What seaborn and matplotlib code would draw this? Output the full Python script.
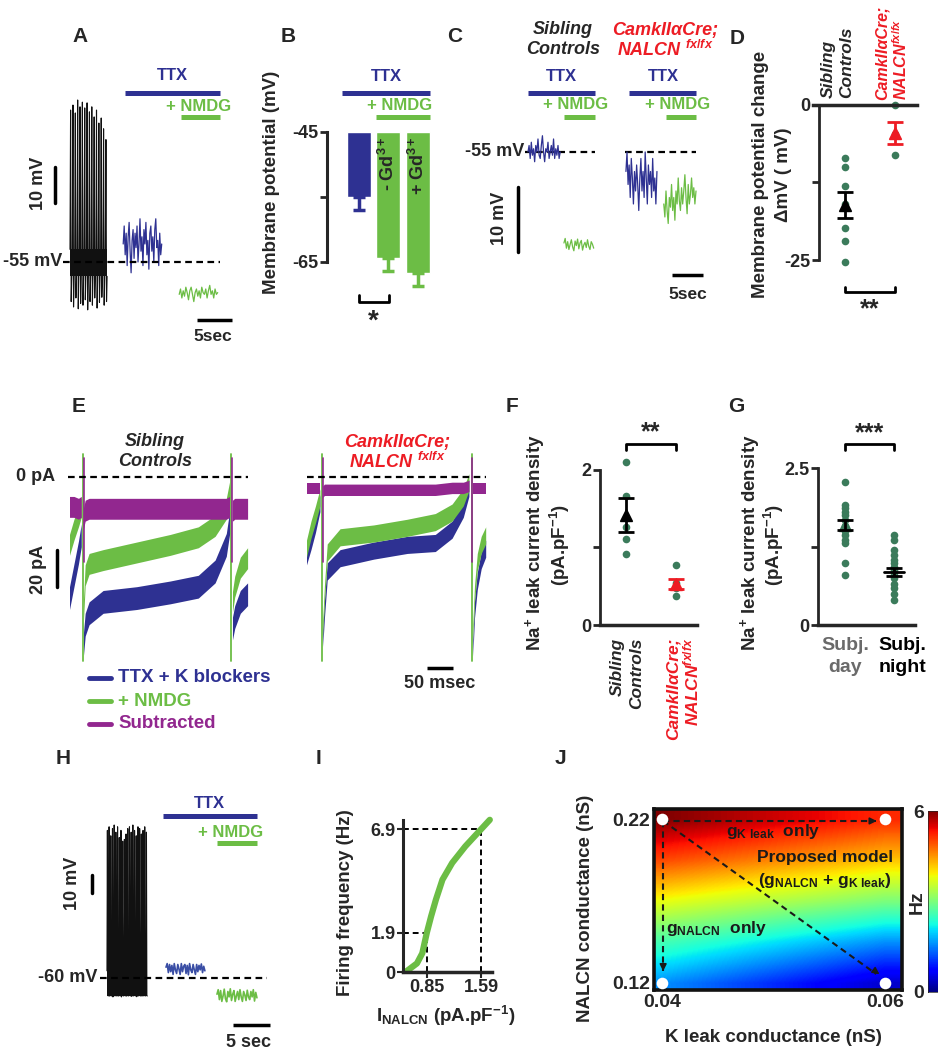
import numpy as np
import pandas as pd
import matplotlib
matplotlib.use('Agg')
import matplotlib.pyplot as plt
from matplotlib.lines import Line2D
import seaborn as sns

sns.set_style('white')
plt.rcParams['font.family'] = ['Liberation Sans', 'DejaVu Sans']
plt.rcParams['font.weight'] = 'bold'
plt.rcParams['mathtext.fontset'] = 'custom'
plt.rcParams['mathtext.rm'] = 'Liberation Sans:bold'
plt.rcParams['mathtext.it'] = 'Liberation Sans:italic:bold'
plt.rcParams['mathtext.bf'] = 'Liberation Sans:bold'
plt.rcParams['axes.linewidth'] = 2

NAVY = '#2e3192'; GREEN = '#6cbd45'; PURPLE = '#92278f'; RED = '#ed1c24'
DOT = '#3b7b5b'; BLACK = '#111111'
nan = np.nan

# ---------------- data ----------------
# A : current clamp (mV), time windows (s)
A_spike_peaks = [-12.8, -11.4, -13.6, -10.0, -11.9, -10.6, -12.2, -10.8, -13.3, -11.9,
                 -14.7, -12.8, -16.4, -15.0, -18.0, -21.0]
A_spike_troughs = [-66, -67.5, -65, -68, -66.5, -67, -65.5, -68.3, -66, -67,
                   -65, -67.8, -66.2, -64.8, -67, -66]
A_blue = [-50, -45, -53, -47, -56, -48, -44, -52, -58, -49, -46, -54, -47, -51, -45, -55, -50, -43,
          -52, -48, -56, -46, -50, -44, -53, -49, -57, -47, -45, -52, -48, -55, -46, -43, -51, -49,
          -56, -47, -53, -50]
A_green = [-64, -62.5, -65, -63, -64.5, -62, -63.5, -65.5, -63, -62, -64, -66, -63.5, -62.5, -64.5,
           -63, -65, -62, -63.5, -64, -62.5, -65, -63, -61.5, -64, -63, -65, -62.5, -64, -63.5]
A_windows = {'spikes': (0.0, 5.3), 'ttx': (7.6, 13.1), 'nmdg': (15.6, 21.1)}
A_drug = {'ttx': (7.86, 21.4), 'nmdg': (15.86, 21.43)}

# B : membrane potential (mV)
B_groups = ['TTX', '- Gd3+', '+ Gd3+']
B_means = [-55.0, -64.4, -66.7]
B_err = [2.0, 2.0, 2.0]

# C
C_sib_blue = [-55, -54, -56, -53.5, -55.5, -54.5, -56.5, -54, -55, -53, -55.5, -56, -54, -52.5, -55,
              -56.5, -54.5, -55, -53.5, -56, -55, -54, -55.5, -53, -56, -54.5, -55.5, -54, -56, -55]
C_sib_green = [-69, -68.3, -69.8, -68.8, -70, -69.2, -68.5, -69.6, -70.2, -68.7, -69.4, -68.4, -69.9,
               -69, -68.6, -70.1, -69.3, -68.9, -69.7, -68.5, -69.5, -70, -68.8, -69.2, -69.8]
C_ko_blue = [-58, -55, -60, -57, -62, -56, -59, -63, -58, -61, -57, -60, -64, -59, -56, -61, -58, -62,
             -55, -59, -63, -57, -60, -58, -62, -56, -61, -59, -63, -58]
C_ko_green = [-63, -65, -61, -64, -66, -62, -63.5, -60, -64, -62, -65.5, -61, -63, -59, -62.5, -64,
              -60.5, -63, -61, -58.5, -62, -64.5, -60, -63, -61.5, -59, -62, -60.5, -63, -61]

# D : membrane potential change (mV)
D_sib = [-8.5, -10.0, -13.0, -16.0, -19.8, -22.0, -25.3]
D_ko = [0.0, -4.6, -8.0]
D_mean = [-16.1, -4.5]
D_sem = [2.1, 1.8]

# E : currents (pA) vs time (ms)
E_sib_t = [0, 8, 16, 21, nan, 25, 28, 35, 60, 120, 180, 230, 260, 280, 286, nan, 291, 295, 305, 318]
E_sib_blue = [-64, -52, -40, -31, nan, -88, -78, -72, -66, -64, -61, -58, -50, -36, -24, nan, -80, -74, -66, -62]
E_sib_green = [-36, -28, -21, -16, nan, -70, -52, -46, -44, -40, -36, -32, -26, -17, -8, nan, -66, -58, -48, -43]
E_sib_purple = [-16, -16, -17, -16, nan, -22, -18, -17, -17, -17, -17, -17, -17, -17, -16, nan, -18, -17, -17, -17]
E_sib_noise = [6, 5.5, 5.5]
E_sib_transients = [23, 288]
E_ko_t = [0, 8, 16, 24, nan, 29, 32, 37, 60, 120, 180, 230, 260, 280, 290, nan, 297, 300, 305, 312, 320]
E_ko_blue = [-42, -34, -25, -14, nan, -85, -70, -50, -43, -39, -36, -35, -28, -17, -6, nan, -90, -70, -55, -44, -38]
E_ko_green = [-38, -28, -20, -11, nan, -80, -62, -40, -32, -30, -27, -24, -19, -11, -3, nan, -82, -62, -45, -36, -31]
E_ko_purple = [-6, -6, -6, -6, nan, -8, -7, -7, -7, -7, -7, -7, -6, -6, -5, nan, -6, -6, -6, -6, -6]
E_ko_noise = [4.5, 4.5, 3]
E_ko_transients = [27, 294]
E_transient_range = (12, -97)

# F : Na+ leak density
F_sib = [2.10, 1.67, 1.27, 1.11, 0.92]
F_ko = [0.77, 0.54, 0.48, 0.37]
F_mean = [1.42, 0.53]
F_sem = [0.215, 0.065]

# G
G_day = [2.28, 1.91, 1.86, 1.80, 1.75, 1.67, 1.57, 1.49, 1.43, 1.35, 1.30, 0.98, 0.79]
G_night = [1.43, 1.35, 1.19, 1.11, 1.03, 0.98, 0.93, 0.88, 0.84, 0.80, 0.75, 0.66, 0.59, 0.50, 0.40]
G_mean = [1.59, 0.84]
G_sem = [0.075, 0.06]

# H
H_spike_peaks = [22, 24, 19, 23, 25, 21, 24, 18, 22, 16, 17, 20, 23, 24, 21, 25, 22, 19, 24, 23, 20, 22, 24, 21]
H_spike_troughs = [-69, -70, -68.5, -70.5, -69.5, -68, -70, -69, -70.5, -68.5, -69.5, -70, -69, -68.5,
                   -70.2, -69.3, -68.8, -70.4, -69.6, -68.7, -70, -69.2, -68.6, -69.8]
H_blue = [-54, -52, -57, -52.5, -56.5, -53, -58, -52, -55.5, -57.5, -52.5, -55, -58, -52, -56.5, -53.5,
          -52.5, -57.5, -53, -58.2, -52, -55.5, -57, -52.5, -55.5, -58, -52.5, -56.5, -53, -55.5,
          -52.2, -57, -53.5, -56]
H_green = [-69, -66.5, -72, -67, -73, -70, -66.2, -71.5, -73.2, -67.5, -70.5, -66, -72.5, -69, -67,
           -73, -70, -67.5, -72, -66.5, -70.5, -73, -67.5, -69.5, -72.5, -66.8, -70.5, -72, -67.5, -70.5,
           -66.5, -72.8, -68, -71]

# I : f-I curve
I_x = [0.566, 0.716, 0.789, 0.85, 0.909, 0.975, 1.064, 1.197, 1.376, 1.59, 1.71]
I_y = [0.03, 0.43, 0.92, 1.90, 2.70, 3.51, 4.47, 5.28, 6.08, 6.90, 7.36]
I_marks_x = [0.85, 1.59]
I_marks_y = [1.9, 6.9]

# J : firing rate map (Hz)
J_k = [0.04, 0.05, 0.06]
J_nalcn = [0.12, 0.145, 0.17, 0.195, 0.22]
J_hz = [[1.6, 1.0, 0.4],
        [2.6, 2.1, 1.6],
        [3.8, 3.4, 3.0],
        [5.0, 4.6, 4.2],
        [6.0, 5.6, 5.2]]

# ---------------- figure ----------------
W, H = 938, 1050
fig = plt.figure(figsize=(W / 100, H / 100), dpi=100)


def axpx(x0, y0, x1, y1):
    return fig.add_axes([x0 / W, 1 - y1 / H, (x1 - x0) / W, (y1 - y0) / H])


def ftxt(x, y, s, **kw):
    kw.setdefault('ha', 'center'); kw.setdefault('va', 'center'); kw.setdefault('fontweight', 'bold')
    fig.text(x / W, 1 - y / H, s, **kw)


def zig(ax, t0, t1, vals, color, lw=0.9):
    ax.plot(np.linspace(t0, t1, len(vals)), vals, color=color, lw=lw)


def spike_train(ax, t0, t1, peaks, troughs, hi, lo):
    seq = []
    for p, tr in zip(peaks, troughs):
        seq += [hi, p, tr, lo]
    ax.fill_between([t0, t1], lo, hi, color=BLACK, lw=0)
    ax.plot(np.linspace(t0, t1, len(seq)), seq, color=BLACK, lw=0.8)


def hbar(ax, x0, x1, y, color, lw=3.6):
    ax.plot([x0, x1], [y, y], color=color, lw=lw, solid_capstyle='butt', clip_on=False)


for lab, (x, y) in zip('ABCDEFGHIJ', [(80, 36), (288, 36), (455, 36), (737, 39), (79, 407),
                                       (512, 407), (736, 407), (63, 758), (318, 758), (560, 758)]):
    ftxt(x, y, lab, fontsize=15)

# ---- A ----
axA = axpx(60, 60, 245, 345)
axA.set_xlim(-1.43, 25.0); axA.set_ylim(-78.06, 1.11); axA.axis('off')
spike_train(axA, *A_windows['spikes'], A_spike_peaks, A_spike_troughs, -51.5, -59)
zig(axA, *A_windows['ttx'], A_blue, NAVY)
zig(axA, *A_windows['nmdg'], A_green, GREEN)
axA.plot([-1.0, 21.4], [-55, -55], ls=(0, (3, 2)), color='k', lw=1.6)
axA.text(-1.15, -55, '-55 mV', ha='right', va='center', fontsize=13)
axA.plot([-2.14, -2.14], [-28.6, -38.6], color='k', lw=2.5, clip_on=False)
axA.text(-4.57, -33.3, '10 mV', rotation=90, ha='center', va='center', fontsize=13)
hbar(axA, *A_drug['ttx'], -8.06, NAVY)
axA.text(14.6, -3.3, 'TTX', color=NAVY, ha='center', va='center', fontsize=12)
axA.text(18.3, -11.7, '+ NMDG', color=GREEN, ha='center', va='center', fontsize=12)
hbar(axA, *A_drug['nmdg'], -14.7, GREEN)
hbar(axA, 18.14, 23.14, -71.1, 'k', lw=2.5)
axA.text(20.43, -75.8, '5sec', ha='center', va='center', fontsize=12.5)

# ---- B ----
axB = axpx(327, 95, 440, 300)
xB = np.arange(len(B_groups))
axB.bar(xB, [m + 45 for m in B_means], bottom=-45, width=0.81, color=[NAVY, GREEN, GREEN])
for i, c in enumerate([NAVY, GREEN, GREEN]):
    axB.errorbar(xB[i], B_means[i], yerr=[[B_err[i]], [0]], fmt='none', ecolor=c,
                 elinewidth=2.5, capsize=4, capthick=2.5)
axB.set_xlim(-1.08, 2.75); axB.set_ylim(-70.85, -39.31)
for s in ['top', 'right', 'bottom']:
    axB.spines[s].set_visible(False)
axB.spines['left'].set_bounds(-65, -45); axB.spines['left'].set_linewidth(2.2)
axB.set_yticks([-65, -55, -45]); axB.set_yticklabels(['-65', '', '-45'], fontsize=13)
axB.tick_params(axis='y', length=5, width=2, pad=1, left=True)
axB.set_xticks([])
axB.text(1, -45.8, '- Gd$^{3+}$', rotation=90, ha='center', va='top', fontsize=13)
axB.text(2, -45.6, '+ Gd$^{3+}$', rotation=90, ha='center', va='top', fontsize=13)
hbar(axB, -0.58, 2.41, -39.0, NAVY)
axB.text(0.95, -36.5, 'TTX', color=NAVY, ha='center', va='center', fontsize=12)
axB.text(1.37, -41.0, '+ NMDG', color=GREEN, ha='center', va='center', fontsize=12)
hbar(axB, 0.58, 2.41, -42.7, GREEN)
axB.plot([0, 0, 1.02, 1.02], [-70.1, -71.2, -71.2, -70.1], color='k', lw=2, clip_on=False)
axB.text(0.5, -74.2, '*', ha='center', va='center', fontsize=20)
ftxt(272, 182, 'Membrane potential (mV)', rotation=90, fontsize=13.5)

# ---- C ----
axC = axpx(455, 60, 712, 310)
axC.set_xlim(-11.77, 29.68); axC.set_ylim(-79.31, -40.85); axC.axis('off')
axC.plot([-0.5, 10.8], [-55, -55], ls=(0, (3, 2)), color='k', lw=1.6)
axC.plot([15.65, 27.1], [-55, -55], ls=(0, (3, 2)), color='k', lw=1.6)
zig(axC, 0, 5.2, C_sib_blue, NAVY)
zig(axC, 5.8, 10.6, C_sib_green, GREEN)
zig(axC, 15.8, 20.8, C_ko_blue, NAVY)
zig(axC, 21.9, 27.1, C_ko_green, GREEN)
axC.text(-0.65, -55, '-55 mV', ha='right', va='center', fontsize=13)
axC.plot([-1.61, -1.61], [-60.4, -70.4], color='k', lw=2.5, clip_on=False)
axC.text(-4.52, -65.2, '10 mV', rotation=90, ha='center', va='center', fontsize=13)
for (t0, t1, tt, nx, g0) in [(0, 10.8, 5.32, 7.74, 5.8), (16.3, 27.1, 21.8, 24.2, 22.3)]:
    hbar(axC, t0, t1, -45.92, NAVY)
    axC.text(tt, -43.46, 'TTX', color=NAVY, ha='center', va='center', fontsize=12)
    axC.text(nx, -47.77, '+ NMDG', color=GREEN, ha='center', va='center', fontsize=12)
    hbar(axC, g0, t1, -49.6, GREEN)
hbar(axC, 23.2, 28.2, -73.9, 'k', lw=2.5)
axC.text(25.8, -77.0, '5sec', ha='center', va='center', fontsize=12.5)
ftxt(563, 30, 'Sibling', fontsize=13, fontstyle='italic')
ftxt(563, 50, 'Controls', fontsize=13, fontstyle='italic')
ftxt(665, 30, 'CamkII\u03b1Cre;', fontsize=13, fontstyle='italic', color=RED)
ftxt(665, 50, 'NALCN $^{fx/fx}$', fontsize=13, fontstyle='italic', color=RED)


def dot_panel(ax, a, b, means, sems, mcolors, ecolors, size=5.5):
    df = pd.DataFrame({'g': ['a'] * len(a) + ['b'] * len(b), 'v': list(a) + list(b)})
    sns.stripplot(data=df, x='g', y='v', order=['a', 'b'], jitter=False, color=DOT,
                  size=size, linewidth=0, ax=ax, zorder=2)
    for i in range(2):
        if mcolors[i] is not None:
            ax.plot(i, means[i], marker='^', color=mcolors[i], ms=9, zorder=3)
        ax.errorbar(i, means[i], yerr=sems[i], fmt='none', ecolor=ecolors[i], elinewidth=2,
                    capsize=6, capthick=2, zorder=4)
    ax.set_xlabel(''); ax.set_ylabel(''); ax.set_xticks([])
    ax.spines['top'].set_visible(False); ax.spines['right'].set_visible(False)
    ax.tick_params(axis='y', length=5, width=2, pad=1, left=True, labelsize=13)


# ---- D ----
axD = axpx(819, 95, 925, 300)
dot_panel(axD, D_sib, D_ko, D_mean, D_sem, ['k', RED], ['k', RED])
axD.set_xlim(-0.52, 1.6); axD.set_ylim(-31.45, 1.61)
axD.spines['bottom'].set_position(('data', 0)); axD.spines['bottom'].set_bounds(-0.64, 1.44)
axD.spines['bottom'].set_linewidth(2.5)
axD.spines['left'].set_bounds(-25, 0)
axD.set_yticks([-25, -12.5, 0]); axD.set_yticklabels(['-25', '', '0'])
axD.plot([0, 0, 1, 1], [-29.4, -30.2, -30.2, -29.4], color='k', lw=2, clip_on=False)
axD.text(0.5, -33.0, '**', ha='center', va='center', fontsize=18)
ftxt(760, 174, 'Membrane potential change', rotation=90, fontsize=13.5)
ftxt(783, 175, '\u0394mV ( mV)', rotation=90, fontsize=13.5)
ftxt(828, 98, 'Sibling', rotation=90, va='bottom', fontsize=12.5, fontstyle='italic')
ftxt(847, 98, 'Controls', rotation=90, va='bottom', fontsize=12.5, fontstyle='italic')
ftxt(882, 100, 'CamkII\u03b1Cre;', rotation=90, va='bottom', fontsize=11.5, fontstyle='italic', color=RED)
ftxt(901, 100, 'NALCN$^{fx/fx}$', rotation=90, va='bottom', fontsize=11.5, fontstyle='italic', color=RED)

# ---- E ----
def e_panel(ax, t, traces, noise, transients):
    t = np.array(t, float)
    for (vals, col), hw in zip(traces, noise):
        v = np.array(vals, float)
        ax.fill_between(t, v - hw, v + hw, color=col, lw=0)
    for tr in transients:
        ax.plot([tr, tr], [E_transient_range[0], E_transient_range[1]], color=GREEN, lw=1.3)
        ax.plot([tr + 1.5, tr + 1.5], [E_transient_range[0] - 2, -45], color=PURPLE, lw=1.2)


axEs = axpx(60, 440, 250, 670)
axEs.set_xlim(-17.86, 321.4); axEs.set_ylim(-101.58, 19.47); axEs.axis('off')
e_panel(axEs, E_sib_t, [(E_sib_blue, NAVY), (E_sib_green, GREEN), (E_sib_purple, PURPLE)],
        E_sib_noise, E_sib_transients)
axEs.plot([-3, 318], [0, 0], ls=(0, (3, 2)), color='k', lw=1.6)
axEs.text(-26.8, 0, '0 pA', ha='right', va='center', fontsize=13)
axEs.plot([-23.2, -23.2], [-38.4, -57.9], color='k', lw=2.5, clip_on=False)
axEs.text(-57.1, -48.4, '20 pA', rotation=90, ha='center', va='center', fontsize=13)

axEk = axpx(300, 440, 490, 670)
axEk.set_xlim(-12.5, 326.8); axEk.set_ylim(-101.58, 19.47); axEk.axis('off')
e_panel(axEk, E_ko_t, [(E_ko_blue, NAVY), (E_ko_green, GREEN), (E_ko_purple, PURPLE)],
        E_ko_noise, E_ko_transients)
axEk.plot([0, 320], [0, 0], ls=(0, (3, 2)), color='k', lw=1.6)
axEk.plot([214, 261], [-100.5, -100.5], color='k', lw=2.5, clip_on=False, solid_capstyle='butt')
axEk.text(237.5, -108.6, '50 msec', ha='center', va='center', fontsize=13)
ftxt(155, 442, 'Sibling', fontsize=13, fontstyle='italic')
ftxt(155, 462, 'Controls', fontsize=13, fontstyle='italic')
ftxt(397, 442, 'CamkII\u03b1Cre;', fontsize=13, fontstyle='italic', color=RED)
ftxt(397, 462, 'NALCN $^{fx/fx}$', fontsize=13, fontstyle='italic', color=RED)
for yy, lab, col in [(678, 'TTX + K blockers', NAVY), (701, '+ NMDG', GREEN), (724, 'Subtracted', PURPLE)]:
    fig.add_artist(Line2D([89 / W, 111 / W], [1 - yy / H] * 2, color=col, lw=3.5))
    ftxt(118, yy, lab, ha='left', color=col, fontsize=13.5)

# ---- F ----
axF = axpx(600, 440, 700, 625)
dot_panel(axF, F_sib, F_ko, F_mean, F_sem, ['k', RED], ['k', RED])
axF.set_xlim(-0.52, 1.48); axF.set_ylim(0, 2.387)
axF.spines['bottom'].set_bounds(-0.52, 1.42); axF.spines['bottom'].set_linewidth(2.5)
axF.spines['left'].set_bounds(0, 2)
axF.set_yticks([0, 1, 2]); axF.set_yticklabels(['0', '', '2'])
axF.plot([0, 0, 1, 1], [2.26, 2.335, 2.335, 2.26], color='k', lw=2, clip_on=False)
axF.text(0.5, 2.48, '**', ha='center', va='center', fontsize=18)
ftxt(535, 543, 'Na$^{+}$ leak current density', rotation=90, fontsize=13.5)
ftxt(560, 545, '(pA.pF$^{-1}$)', rotation=90, fontsize=13.5)
ftxt(617, 638, 'Sibling', rotation=90, va='top', fontsize=12.5, fontstyle='italic')
ftxt(637, 638, 'Controls', rotation=90, va='top', fontsize=12.5, fontstyle='italic')
ftxt(673, 638, 'CamkII\u03b1Cre;', rotation=90, va='top', fontsize=12.5, fontstyle='italic', color=RED)
ftxt(691, 638, 'NALCN$^{fx/fx}$', rotation=90, va='top', fontsize=12.5, fontstyle='italic', color=RED)

# ---- G ----
axG = axpx(818, 440, 916, 625)
dot_panel(axG, G_day, G_night, G_mean, G_sem, [DOT, None], ['k', 'k'])
axG.plot([1 - 0.2, 1 + 0.2], [G_mean[1]] * 2, color='k', lw=2, zorder=5)
axG.set_xlim(-0.551, 1.449); axG.set_ylim(0, 2.946)
axG.spines['bottom'].set_bounds(-0.551, 1.43); axG.spines['bottom'].set_linewidth(2.5)
axG.spines['left'].set_bounds(0, 2.5)
axG.set_yticks([0, 1.25, 2.5]); axG.set_yticklabels(['0', '', '2.5'])
axG.plot([0, 0, 1, 1], [2.79, 2.88, 2.88, 2.79], color='k', lw=2, clip_on=False)
axG.text(0.5, 3.06, '***', ha='center', va='center', fontsize=18)
ftxt(750, 543, 'Na$^{+}$ leak current density', rotation=90, fontsize=13.5)
ftxt(774, 545, '(pA.pF$^{-1}$)', rotation=90, fontsize=13.5)
ftxt(845, 645, 'Subj.', color='#6a6a6a', fontsize=14)
ftxt(845, 668, 'day', color='#6a6a6a', fontsize=14)
ftxt(902, 645, 'Subj.', color='k', fontsize=14)
ftxt(902, 668, 'night', color='k', fontsize=14)

# ---- H ----
axH = axpx(30, 790, 282, 1050)
axH.set_xlim(-10.69, 24.31); axH.set_ylim(-100, 44.44); axH.axis('off')
spike_train(axH, 0, 5.6, H_spike_peaks, H_spike_troughs, -56, -70)
zig(axH, 8.2, 13.6, H_blue, '#3a4ea5', lw=1.2)
zig(axH, 15.28, 20.83, H_green, GREEN, lw=1.2)
axH.plot([-0.97, 22.2], [-60, -60], ls=(0, (3, 2)), color='k', lw=1.6)
axH.text(-1.39, -60, '-60 mV', ha='right', va='center', fontsize=13)
axH.plot([-2.08, -2.08], [-2.78, -12.78], color='k', lw=2.5, clip_on=False)
axH.text(-4.72, -7.2, '10 mV', rotation=90, ha='center', va='center', fontsize=13)
hbar(axH, 7.78, 20.83, 30, NAVY)
axH.text(14.17, 36.67, 'TTX', color=NAVY, ha='center', va='center', fontsize=12)
axH.text(17.2, 20.56, '+ NMDG', color=GREEN, ha='center', va='center', fontsize=12)
hbar(axH, 15.28, 20.83, 15, GREEN)
hbar(axH, 17.5, 22.64, -86.1, 'k', lw=2.5)
axH.text(19.72, -95.6, '5 sec', ha='center', va='center', fontsize=13)

# ---- I ----
axI = axpx(402.7, 800, 500, 972.3)
for gx, gy in zip(I_marks_x, I_marks_y):
    axI.plot([0.5216, gx], [gy, gy], ls=(0, (3, 2)), color='k', lw=1.4)
    axI.plot([gx, gx], [0, gy], ls=(0, (3, 2)), color='k', lw=1.4)
sns.lineplot(x=I_x, y=I_y, color=GREEN, lw=4.5, ax=axI, sort=False)
axI.set_xlim(0.5216, 1.8491); axI.set_ylim(0, 8.316)
axI.spines['top'].set_visible(False); axI.spines['right'].set_visible(False)
axI.spines['left'].set_bounds(0, 7.35); axI.spines['bottom'].set_bounds(0.5216, 1.74)
axI.spines['left'].set_linewidth(2.2); axI.spines['bottom'].set_linewidth(2.5)
axI.set_yticks([0] + I_marks_y); axI.set_yticklabels(['0', '1.9', '6.9'], fontsize=13)
axI.set_xticks(I_marks_x); axI.set_xticklabels(['0.85', '1.59'], fontsize=13)
axI.tick_params(length=4, width=1.5, pad=1, left=True, bottom=True)
ftxt(345, 903, 'Firing frequency (Hz)', rotation=90, fontsize=13.5)
ftxt(446, 1016, 'I$_{\\mathrm{NALCN}}$ (pA.pF$^{-1}$)', fontsize=13.5)

# ---- J ----
axJ = axpx(654, 809, 902, 990)
im = axJ.imshow(np.array(J_hz), origin='lower', cmap='jet', vmin=0, vmax=6, aspect='auto',
                interpolation='bilinear',
                extent=[J_k[0] - 0.005, J_k[-1] + 0.005, J_nalcn[0] - 0.0125, J_nalcn[-1] + 0.0125])
axJ.set_xlim(0.03928, 0.06152); axJ.set_ylim(0.11573, 0.2261)
for s in axJ.spines.values():
    s.set_linewidth(2.6); s.set_color('#111111')
axJ.set_xticks([J_k[0], J_k[-1]]); axJ.set_xticklabels(['0.04', '0.06'], fontsize=14)
axJ.set_yticks([J_nalcn[0], J_nalcn[-1]]); axJ.set_yticklabels(['0.12', '0.22'], fontsize=14)
axJ.tick_params(length=0, pad=3)
dash = dict(ls=(0, (3, 2)), color='#1a1a1a', lw=1.5)
axJ.plot([0.0401, 0.0590], [0.2188, 0.2188], **dash)
axJ.plot([0.0401, 0.0401], [0.2188, 0.1275], **dash)
axJ.plot([0.0401, 0.0592], [0.2188, 0.1255], **dash)
for xy, xyt in [((0.0595, 0.2188), (0.0588, 0.2188)), ((0.0401, 0.1255), (0.0401, 0.131)),
                ((0.0597, 0.1243), (0.0590, 0.1278))]:
    axJ.annotate('', xy=xy, xytext=xyt,
                 arrowprops=dict(arrowstyle='-|>', color='#1a1a1a', lw=1.2, mutation_scale=10))
cx = [J_k[0], J_k[-1], J_k[0], J_k[-1]]
cy = [J_nalcn[-1], J_nalcn[-1], J_nalcn[0], J_nalcn[0]]
axJ.scatter(cx, cy, s=70, color='white', zorder=5, linewidths=0)
jt = dict(ha='center', va='center', fontsize=12.5, color='#1a1a1a', fontweight='bold')
axJ.text(0.0500, 0.2123, 'g$_{\\mathrm{K\\ leak}}$  only', **jt)
axJ.text(0.0546, 0.1965, 'Proposed model', **jt)
axJ.text(0.0546, 0.1825, '(g$_{\\mathrm{NALCN}}$ + g$_{\\mathrm{K\\ leak}}$)', **jt)
axJ.text(0.0449, 0.1530, 'g$_{\\mathrm{NALCN}}$  only', **jt)
cax = axpx(928, 811, 946, 992)
cb = fig.colorbar(im, cax=cax)
cb.outline.set_linewidth(0.5)
cax.yaxis.set_ticks_position('left')
cb.set_ticks([0, 6]); cax.set_yticklabels(['0', '6'], fontsize=14)
cax.tick_params(length=0, pad=3)
ftxt(917, 902, 'Hz', rotation=90, fontsize=14)
ftxt(585, 908, 'NALCN conductance (nS)', rotation=90, fontsize=13.5)
ftxt(773, 1038, 'K leak conductance (nS)', fontsize=13.5)

fig.savefig('out.png', dpi=100)
